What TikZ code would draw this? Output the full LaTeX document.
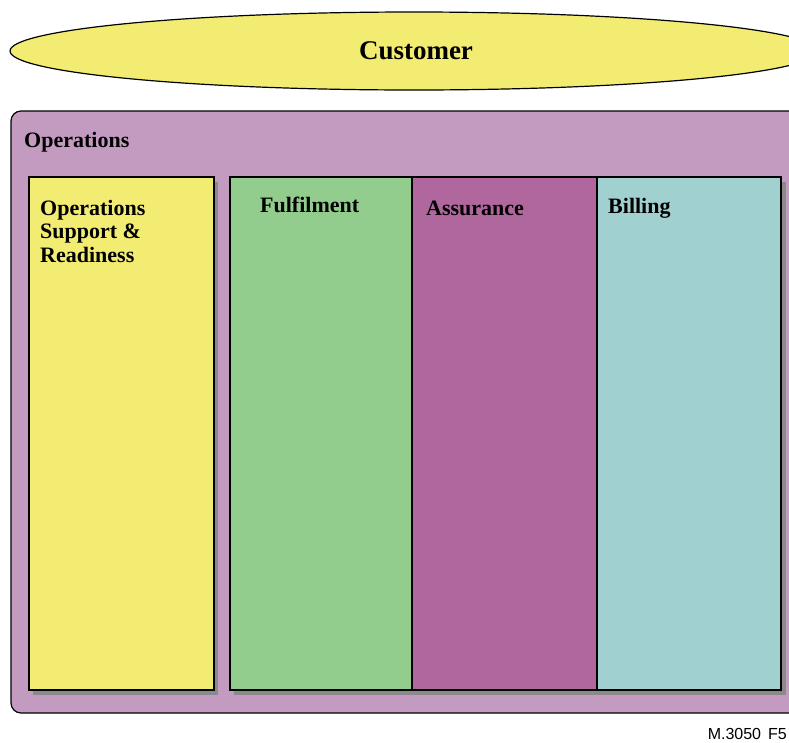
\documentclass[tikz,border=0pt]{standalone}
\usepackage{fontspec}
\setmainfont{Liberation Serif}
\newfontfamily\figfont{Liberation Sans}
\usetikzlibrary{shapes.geometric}

\definecolor{custyellow}{HTML}{F3EC73}
\definecolor{opsviolet}{HTML}{C49BC0}
\definecolor{fulgreen}{HTML}{92CD8D}
\definecolor{assmagenta}{HTML}{B0679E}
\definecolor{billcyan}{HTML}{A0D1D0}
\definecolor{shadowgray}{HTML}{8A8A8A}

\begin{document}
\begin{tikzpicture}[%
      x=1pt, y=-1pt,
      panel/.style={draw=black, line width=1.2pt},
      shadow/.style={fill=shadowgray},
      heading/.style={font=\bfseries\fontsize{22}{23.5}\selectfont, inner sep=0pt, align=left},
      ]
      \useasboundingbox (0,0) rectangle (789,742);
      \clip (0,0) rectangle (789,742);

      % customer
      \filldraw [panel, fill=custyellow] (414,51) ellipse (404pt and 39pt);
      \node [font=\bfseries\fontsize{27}{30}\selectfont, inner sep=0pt] (customer) at (416,51) {Customer};

      % operations frame
      \filldraw [panel, fill=opsviolet, rounded corners=10pt] (11,111) rectangle (800,713);
      \node [heading, anchor=west] (operations) at (24,142) {Operations};

      % shadows
      \fill [shadow] (33,182) rectangle (218,695);
      \fill [shadow] (234,182) rectangle (786,695);

      % columns
      \filldraw [panel, fill=custyellow] (29,177) rectangle (214,690);
      \filldraw [panel, fill=fulgreen] (230,177) rectangle (412,690);
      \filldraw [panel, fill=assmagenta] (412,177) rectangle (597,690);
      \filldraw [panel, fill=billcyan] (597,177) rectangle (781,690);

      \node [heading, anchor=north west] (readiness) at (40,200) {Operations\\Support \&\\Readiness};
      \node [heading, anchor=west] (fulfilment) at (260,205) {Fulfilment};
      \node [heading, anchor=west] (assurance) at (426,208) {Assurance};
      \node [heading, anchor=west] (billing) at (608,208) {Billing};

      \node [font=\figfont\fontsize{16}{18}\selectfont, anchor=east, inner sep=0pt] (figno) at (787,734) {M.3050\hspace{7pt}F5};
      \end{tikzpicture}
\end{document}
